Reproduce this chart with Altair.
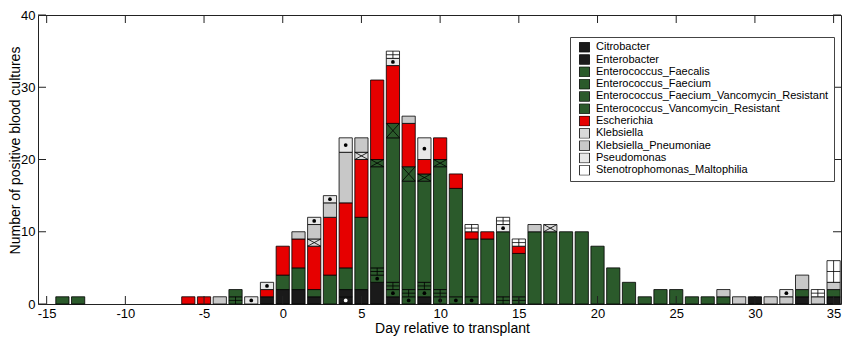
import altair as alt
import pandas as pd

species = ["Citrobacter", "Enterobacter", "Enterococcus_Faecalis", "Enterococcus_Faecium",
           "Enterococcus_Faecium_Vancomycin_Resistant", "Enterococcus_Vancomycin_Resistant",
           "Escherichia", "Klebsiella", "Klebsiella_Pneumoniae", "Pseudomonas",
           "Stenotrophomonas_Maltophilia"]
colors = ["#1a1a1a", "#1a1a1a", "#2b5a2b", "#2b5a2b", "#2b5a2b", "#2b5a2b",
          "#e60000", "#d9d9d9", "#c8c8c8", "#e8e8e8", "#ffffff"]

days = [-14, -13, -6, -5, -4, -3, -2, -1,
        0, 1, 2, 3, 4, 5, 6, 7, 8, 9, 10, 11, 12, 13, 14, 15, 16, 17,
        18, 19, 20, 21, 22, 23, 24, 25, 26, 27, 28, 29, 30, 31, 32, 33, 34, 35]

citrobacter = [0, 0, 0, 0, 0, 0, 0, 0,
               0, 0, 0, 0, 1, 0, 0, 0, 0, 0, 0, 0, 0, 0, 0, 0, 0, 0,
               0, 0, 0, 0, 0, 0, 0, 0, 0, 0, 0, 0, 0, 0, 0, 0, 0, 0]
enterobacter = [0, 0, 0, 0, 0, 0, 0, 1,
                2, 2, 1, 0, 1, 2, 3, 1, 0, 1, 0, 0, 0, 0, 0, 0, 0, 0,
                0, 0, 0, 0, 0, 0, 0, 0, 0, 0, 0, 0, 1, 0, 0, 1, 0, 1]
faecalis = [0, 0, 0, 0, 0, 0, 0, 0,
            0, 0, 0, 0, 0, 0, 1, 1, 1, 1, 1, 1, 1, 0, 0, 0, 0, 0,
            0, 0, 0, 0, 0, 0, 0, 0, 0, 0, 0, 0, 0, 0, 0, 0, 0, 0]
faecium = [0, 0, 0, 0, 0, 1, 0, 0,
           0, 0, 0, 0, 0, 0, 1, 1, 1, 1, 1, 0, 0, 0, 1, 1, 0, 0,
           0, 0, 0, 0, 0, 0, 0, 0, 0, 0, 0, 0, 0, 0, 0, 0, 0, 0]
faecium_vr = [1, 1, 0, 0, 0, 1, 0, 0,
              2, 3, 1, 4, 3, 10, 14, 20, 15, 14, 17, 15, 8, 9, 9, 6, 10, 10,
              10, 10, 8, 5, 3, 1, 2, 2, 1, 1, 1, 0, 0, 0, 0, 1, 0, 1]
entero_vr = [0, 0, 0, 0, 0, 0, 0, 0,
             0, 0, 0, 0, 0, 0, 1, 2, 2, 1, 1, 0, 0, 0, 0, 0, 0, 0,
             0, 0, 0, 0, 0, 0, 0, 0, 0, 0, 0, 0, 0, 0, 0, 0, 0, 0]
escherichia = [0, 0, 1, 1, 0, 0, 0, 1,
               4, 4, 6, 8, 9, 8, 11, 8, 6, 2, 3, 2, 1, 1, 0, 1, 0, 0,
               0, 0, 0, 0, 0, 0, 0, 0, 0, 0, 0, 0, 0, 0, 0, 0, 0, 0]
klebsiella = [0, 0, 0, 0, 0, 0, 0, 0,
              0, 0, 1, 0, 0, 1, 0, 0, 0, 0, 0, 0, 0, 0, 0, 0, 0, 1,
              0, 0, 0, 0, 0, 0, 0, 0, 0, 0, 0, 0, 0, 0, 0, 0, 0, 0]
kleb_pneumoniae = [0, 0, 0, 0, 1, 0, 0, 0,
                   0, 1, 2, 2, 7, 2, 0, 0, 1, 0, 0, 0, 0, 0, 0, 0, 1, 0,
                   0, 0, 0, 0, 0, 0, 0, 0, 0, 0, 1, 1, 0, 1, 1, 2, 1, 1]
pseudomonas = [0, 0, 0, 0, 0, 0, 1, 1,
               0, 0, 1, 1, 2, 0, 0, 1, 0, 3, 0, 0, 0, 0, 1, 0, 0, 0,
               0, 0, 0, 0, 0, 0, 0, 0, 0, 0, 0, 0, 0, 0, 1, 0, 0, 0]
stenotrophomonas = [0, 0, 0, 0, 0, 0, 0, 0,
                    0, 0, 0, 0, 0, 0, 0, 1, 0, 0, 0, 0, 1, 0, 1, 1, 0, 0,
                    0, 0, 0, 0, 0, 0, 0, 0, 0, 0, 0, 0, 0, 0, 0, 0, 1, 3]

series = [citrobacter, enterobacter, faecalis, faecium, faecium_vr, entero_vr,
          escherichia, klebsiella, kleb_pneumoniae, pseudomonas, stenotrophomonas]

x_ticks = [-15, -10, -5, 0, 5, 10, 15, 20, 25, 30, 35]
y_ticks = [0, 10, 20, 30, 40]

dot_species = {"Citrobacter": "white", "Enterococcus_Faecalis": "black", "Pseudomonas": "black"}
plus_species = ["Enterococcus_Faecium", "Stenotrophomonas_Maltophilia"]
cross_species = ["Enterococcus_Vancomycin_Resistant", "Klebsiella"]

W, H = 803, 289
HALF = 0.42
rows = []
for i, d in enumerate(days):
    base = 0
    for sp, arr in zip(species, series):
        c = arr[i]
        if c > 0:
            rows.append({"day": d, "species": sp, "y0": base, "y1": base + c,
                         "xl": d - HALF, "xr": d + HALF, "mid": base + c / 2})
            base += c
df = pd.DataFrame(rows)

xs = alt.Scale(domain=[-15.55, 35.47], nice=False, zero=False)
ys = alt.Scale(domain=[0, 40], nice=False)
LBL = "'' + datum.value"
XAX = alt.Axis(values=x_ticks, title="Day relative to transplant", labelExpr=LBL,
               titleX=414, titlePadding=1)
YAX = alt.Axis(values=y_ticks, title="Number of positive blood cultures", labelExpr=LBL,
               titleY=135, titleX=-15.5)


def X(f):
    return alt.X(f, scale=xs, axis=XAX)


def Y(f):
    return alt.Y(f, scale=ys, axis=YAX)


bars = alt.Chart(df).mark_rect(stroke="black", strokeWidth=0.8).encode(
    x=X("xl:Q"), x2="xr:Q", y=Y("y0:Q"), y2="y1:Q",
    fill=alt.Fill("species:N", scale=alt.Scale(domain=species, range=colors),
                  legend=alt.Legend(title=None, orient="none", legendX=532, legendY=22,
                                    fillColor="white", strokeColor="#444", padding=5,
                                    symbolOffset=4,
                                    symbolType="square", symbolSize=100,
                                    symbolStrokeColor="black", symbolStrokeWidth=0.8,
                                    symbolOpacity=1, labelFontSize=11, labelFont="Liberation Sans",
                                    labelColor="black", rowPadding=0.3, labelOffset=6,
                                    clipHeight=10.5, labelLimit=400)),
)

dots_df = df[df.species.isin(list(dot_species))].copy()
dots_df["dc"] = dots_df.species.map(dot_species)
dots = alt.Chart(dots_df).mark_point(filled=True, size=14, opacity=1).encode(
    x=X("day:Q"), y=Y("mid:Q"),
    color=alt.Color("dc:N", scale=None, legend=None),
)

plus_df = df[df.species.isin(plus_species)]
plus_v = alt.Chart(plus_df).mark_rule(color="black", strokeWidth=0.8).encode(
    x=X("day:Q"), y=Y("y0:Q"), y2="y1:Q")
plus_h = alt.Chart(plus_df).mark_rule(color="black", strokeWidth=0.8).encode(
    x=X("xl:Q"), x2="xr:Q", y=Y("mid:Q"))

cross_df = df[df.species.isin(cross_species)]
cross_a = alt.Chart(cross_df).mark_rule(color="black", strokeWidth=0.8).encode(
    x=X("xl:Q"), x2="xr:Q", y=Y("y0:Q"), y2="y1:Q")
cross_b = alt.Chart(cross_df).mark_rule(color="black", strokeWidth=0.8).encode(
    x=X("xl:Q"), x2="xr:Q", y=Y("y1:Q"), y2="y0:Q")

xt = pd.DataFrame({"t": x_ticks})
yt = pd.DataFrame({"t": y_ticks})
tick_b = alt.Chart(xt).mark_rule(color="#222").encode(
    x=X("t:Q"), y=alt.value(H), y2=alt.value(H - 8))
tick_t = alt.Chart(xt).mark_rule(color="#222").encode(
    x=X("t:Q"), y=alt.value(0), y2=alt.value(8))
tick_l = alt.Chart(yt).mark_rule(color="#222").encode(
    y=Y("t:Q"), x=alt.value(0), x2=alt.value(8))
tick_r = alt.Chart(yt).mark_rule(color="#222").encode(
    y=Y("t:Q"), x=alt.value(W), x2=alt.value(W - 8))

chart = alt.layer(bars, dots, plus_v, plus_h, cross_a, cross_b,
                  tick_b, tick_t, tick_l, tick_r).properties(
    width=W, height=H,
    autosize=alt.AutoSizeParams(type="none"),
    padding={"left": 30, "top": 7, "right": 1, "bottom": 34},
).configure_view(stroke="#222", strokeWidth=1).configure_axis(
    domain=False, ticks=False, grid=False,
    labelFont="Liberation Sans", labelFontSize=13, labelColor="black", labelPadding=3,
    titleFont="Liberation Sans", titleFontSize=14, titleFontWeight="normal",
    titleColor="black",
)

chart.save("out.html", embed_options={"renderer": "svg", "actions": False})
